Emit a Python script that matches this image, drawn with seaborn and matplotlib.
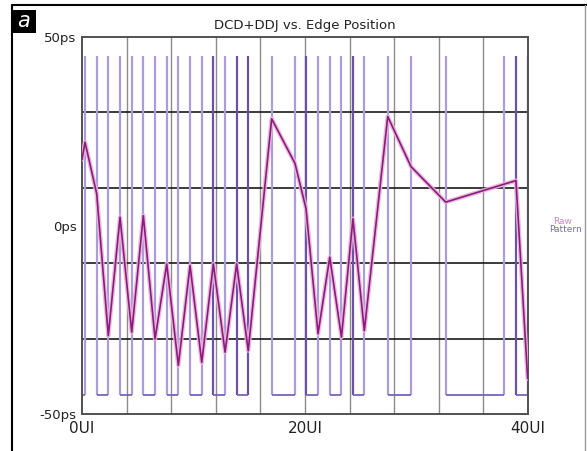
import matplotlib
matplotlib.use("Agg")
import matplotlib.pyplot as plt
import seaborn as sns
import pandas as pd
from matplotlib.lines import Line2D
from matplotlib.patches import Rectangle

sns.set_theme(style="white")
plt.rcParams['font.family'] = ['DejaVu Sans']

# ---- data ----
# Raw pattern: edge positions (UI) and level after each edge (ps)
edge_ui = [0.27, 1.32, 2.36, 3.41, 4.46, 5.50, 6.55, 7.60, 8.64, 9.69,
           10.74, 11.78, 12.83, 13.87, 14.91, 17.01, 19.10, 20.09, 21.17, 22.22,
           23.27, 24.30, 25.32, 27.42, 29.51, 32.62, 37.89, 38.92, 39.97]
start_level = -45
pattern_levels = [45, -45, 45, -45, 45, -45, 45, -45, 45, -45,
                  45, -45, 45, -45, 45, -45, 45, -45, 45, -45,
                  45, -45, 45, -45, 45, -45, 45, -45, 45]

# DCD+DDJ vs. edge position
dcd_x = [0.0, 0.27, 1.32, 2.36, 3.41, 4.46, 5.50, 6.55, 7.60, 8.64, 9.69,
         10.74, 11.78, 12.83, 13.87, 14.91, 17.01, 19.10, 20.09, 21.17, 22.22,
         23.27, 24.30, 25.32, 27.42, 29.51, 32.62, 37.89, 38.92, 39.97]
dcd_ps = [17.5, 22.1, 8.4, -29.2, 2.2, -28.3, 2.6, -30.1, -10.2, -37.1, -10.6,
          -36.3, -10.2, -33.6, -10.2, -33.2, 28.3, 16.5, 4.5, -28.7, -8.4,
          -29.6, 1.8, -27.9, 28.9, 15.6, 6.2, 11.0, 11.9, -40.6]

x_ticks = [0, 20, 40]
x_ticklabels = ["0UI", "20UI", "40UI"]
y_ticks = [-50, 0, 50]
y_ticklabels = ["-50ps", "0ps", "50ps"]
title = "DCD+DDJ vs. Edge Position"

# ---- figure ----
W, H = 587, 451
fig = plt.figure(figsize=(W / 100, H / 100), dpi=100)
fig.patch.set_facecolor("white")
ax = fig.add_axes([82 / W, 1 - 414 / H, (528 - 82) / W, (414 - 37) / H])
ax.set_facecolor("white")

ax.set_xlim(0, 40)
ax.set_ylim(-50, 50)

# grid
for gx in range(4, 40, 4):
    ax.axvline(gx, color="#8f8a8a", lw=1.0, zorder=1)
for gy in [-30, -10, 10, 30]:
    ax.axhline(gy, color="#1a1a1a", lw=1.2, zorder=1)

# raw pattern (square wave): verticals at edges, low-level horizontals
dark_idx = {11, 13, 14, 17, 21, 27, 28}
for i, e in enumerate(edge_ui):
    col = "#6b52a8" if i in dark_idx else "#ab9ed8"
    ax.vlines(e, -45, 45, color=col, lw=1.6, zorder=2)
bounds = [0.0] + edge_ui + [40.0]
levels = [start_level] + pattern_levels
for i, lv in enumerate(levels):
    if lv < 0:
        ax.hlines(lv, bounds[i], bounds[i + 1], color="#7a64b8", lw=1.3, zorder=2)

# DCD+DDJ line with pink halo
df = pd.DataFrame({"edge": dcd_x, "ps": dcd_ps})
sns.lineplot(data=df, x="edge", y="ps", sort=False, ax=ax, color="#e9b4d6",
             lw=3.2, alpha=0.9, zorder=3)
sns.lineplot(data=df, x="edge", y="ps", sort=False, ax=ax, color="#8a1a82",
             lw=1.2, zorder=4)

ax.set_xlabel("")
ax.set_ylabel("")
ax.set_xticks(x_ticks)
ax.set_xticklabels(x_ticklabels, fontsize=11, color="#222222")
ax.set_yticks(y_ticks)
ax.set_yticklabels(y_ticklabels, fontsize=9.5, color="#222222")
ax.tick_params(axis="both", length=0)
ax.tick_params(axis="x", pad=5)
ax.tick_params(axis="y", pad=4)
for s in ax.spines.values():
    s.set_visible(True)
    s.set_color("#555050")
    s.set_linewidth(1.4)

fig.text(305 / W, 1 - 25 / H, title, ha="center", va="center", fontsize=9.5,
         color="#222222")

# legend-like labels
fig.text(563 / W, 1 - 221 / H, "Raw", ha="center", va="center", fontsize=6.5,
         color="#c48ac4")
fig.text(565 / W, 1 - 230 / H, "Pattern", ha="center", va="center", fontsize=6.5,
         color="#7a6ab8")

# outer frame
fig.add_artist(Line2D([12 / W, 12 / W], [0, 1 - 5 / H], transform=fig.transFigure,
                      color="black", lw=1.5))
fig.add_artist(Line2D([12 / W, 1], [1 - 5 / H, 1 - 5 / H], transform=fig.transFigure,
                      color="black", lw=1.5))
fig.add_artist(Line2D([585 / W, 585 / W], [0, 1 - 5 / H], transform=fig.transFigure,
                      color="#999999", lw=1.0))

# panel label box
fig.add_artist(Rectangle((12 / W, 1 - 33 / H), 24 / W, 23 / H, transform=fig.transFigure,
                         facecolor="black", edgecolor="none"))
fig.text(24 / W, 1 - 21 / H, "a", ha="center", va="center", fontsize=15,
         color="white", style="italic", family=["DejaVu Sans"])

fig.savefig("out.png", dpi=100, facecolor="white")
